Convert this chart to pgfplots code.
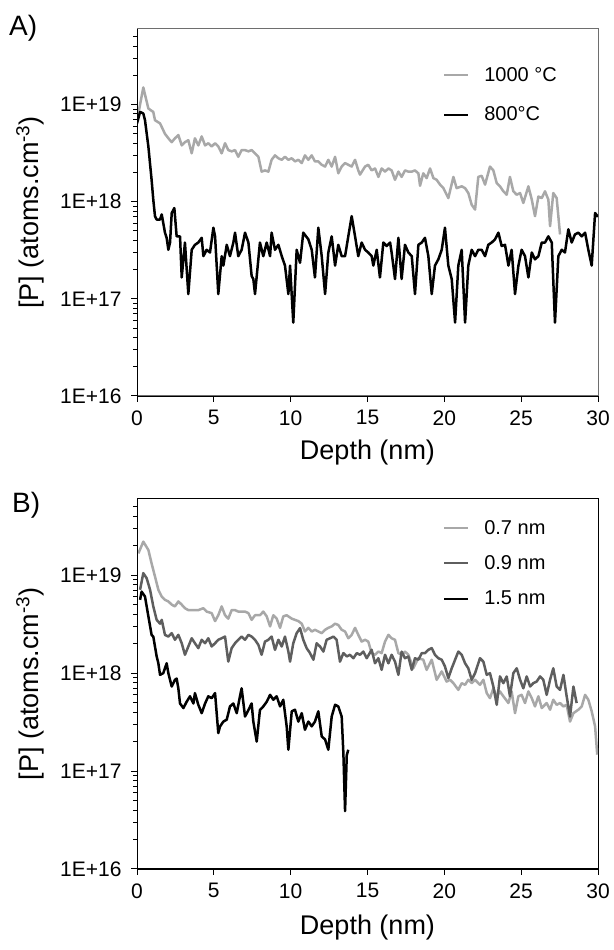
\documentclass[border=0pt]{standalone}
\usepackage{fontspec}
\setmainfont{Liberation Sans}
\usepackage{pgfplots}
\usepackage{pgfplotstable}
\pgfplotsset{compat=1.18}

\definecolor{lgray}{HTML}{A8A8A8}
\definecolor{mgray}{HTML}{5E5E5E}
\definecolor{framegray}{HTML}{6E6E6E}

% panel A: 1000 C
\pgfplotstableread{
x y
0.05 7.5e18
0.41 1.5e19
0.74 9.1e18
1.06 8.4e18
1.17 6.9e18
1.50 6.4e18
1.82 5.0e18
2.04 4.5e18
2.26 4.1e18
2.47 4.5e18
2.69 4.85e18
2.91 3.8e18
3.12 4.1e18
3.34 4.3e18
3.56 3.15e18
3.77 4.5e18
3.99 3.8e18
4.21 4.7e18
4.43 3.8e18
4.64 4.0e18
4.86 3.7e18
5.08 4.0e18
5.29 3.7e18
5.51 3.15e18
5.73 4.0e18
5.94 3.4e18
6.16 3.3e18
6.38 3.4e18
6.59 2.9e18
6.81 3.4e18
7.03 3.4e18
7.25 3.3e18
7.46 3.4e18
7.68 3.15e18
7.90 2.9e18
8.11 2.04e18
8.33 2.1e18
8.55 2.04e18
8.76 2.7e18
8.98 3.0e18
9.20 2.8e18
9.42 2.7e18
9.63 2.9e18
9.85 2.7e18
10.07 2.8e18
10.28 2.6e18
10.50 2.7e18
10.72 2.5e18
10.93 3.0e18
11.15 2.7e18
11.37 3.0e18
11.58 2.6e18
11.80 2.6e18
12.02 2.4e18
12.24 2.3e18
12.45 2.7e18
12.67 2.3e18
12.89 2.9e18
13.10 1.96e18
13.32 2.3e18
13.54 2.5e18
13.75 2.4e18
13.97 2.3e18
14.19 2.7e18
14.40 2.1e18
14.51 1.9e18
14.84 2.3e18
15.05 2.4e18
15.27 2.1e18
15.49 2.2e18
15.71 1.8e18
15.92 2.2e18
16.14 2.04e18
16.36 2.2e18
16.57 2.1e18
16.79 1.68e18
17.01 2.04e18
17.22 1.8e18
17.44 2.1e18
17.66 2.04e18
17.88 2.04e18
18.09 2.1e18
18.31 1.96e18
18.42 1.46e18
18.63 1.96e18
18.85 1.75e18
19.07 2.2e18
19.29 1.75e18
19.50 1.68e18
19.72 1.5e18
19.94 1.38e18
20.26 1.09e18
20.59 1.8e18
20.80 1.38e18
21.13 1.44e18
21.35 1.38e18
21.56 1.23e18
21.78 9.3e17
22.00 8.3e17
22.21 1.8e18
22.43 1.85e18
22.65 1.5e18
22.97 2.3e18
23.19 2.1e18
23.41 1.55e18
23.62 1.44e18
23.84 1.28e18
24.06 1.18e18
24.27 1.8e18
24.49 1.28e18
24.71 1.18e18
24.93 1.23e18
25.14 9.7e17
25.47 1.44e18
25.69 1.05e18
25.90 7.1e17
26.12 1.13e18
26.34 1.09e18
26.55 1.28e18
26.77 1.05e18
26.88 5.6e17
27.09 1.23e18
27.31 1.09e18
27.53 4.6e17
}\tabAhot

% panel A: 800 C
\pgfplotstableread{
x y
0.00 6.4e18
0.20 8.4e18
0.41 8.1e18
0.52 6.9e18
0.74 3.7e18
0.95 1.68e18
1.06 1.05e18
1.17 7.1e17
1.28 6.55e17
1.50 6.55e17
1.61 7.4e17
1.82 4.8e17
1.93 4.25e17
2.04 3.2e17
2.15 3.8e17
2.26 7.65e17
2.43 8.6e17
2.58 4.4e17
2.80 4.4e17
2.91 1.66e17
3.12 3.8e17
3.34 1.12e17
3.56 3.2e17
3.77 3.6e17
3.99 3.8e17
4.21 4.25e17
4.32 2.75e17
4.53 3.2e17
4.75 3.0e17
4.97 5.4e17
5.08 4.4e17
5.29 1.12e17
5.51 2.75e17
5.62 2.2e17
5.84 3.6e17
6.05 2.75e17
6.27 3.8e17
6.38 4.8e17
6.59 2.75e17
6.81 3.2e17
7.03 4.8e17
7.25 3.8e17
7.46 1.72e17
7.57 1.6e17
7.68 1.12e17
8.00 3.8e17
8.22 2.75e17
8.44 3.8e17
8.66 2.75e17
8.76 4.8e17
8.98 3.2e17
9.20 3.6e17
9.42 2.75e17
9.63 2.2e17
9.85 1.12e17
9.96 2.2e17
10.17 5.7e16
10.39 3.2e17
10.61 2.35e17
10.82 4.8e17
11.15 4.1e17
11.37 3.2e17
11.58 1.66e17
11.80 5.4e17
12.02 2.75e17
12.24 1.12e17
12.45 3.0e17
12.67 4.4e17
12.89 2.2e17
13.10 3.6e17
13.32 2.75e17
13.54 2.75e17
13.75 4.4e17
13.97 7.1e17
14.19 4.4e17
14.40 2.75e17
14.62 3.8e17
14.84 3.2e17
15.05 3.0e17
15.27 2.75e17
15.38 2.2e17
15.60 3.2e17
15.81 1.66e17
16.03 3.8e17
16.25 3.5e17
16.47 3.8e17
16.57 3.0e17
16.79 1.6e17
17.01 4.25e17
17.22 1.6e17
17.44 3.6e17
17.66 3.0e17
17.88 2.75e17
18.09 1.12e17
18.31 3.6e17
18.53 3.8e17
18.74 4.25e17
18.96 2.75e17
19.18 1.12e17
19.39 2.2e17
19.61 2.55e17
19.83 3.2e17
20.04 5.4e17
20.26 2.2e17
20.48 1.6e17
20.70 5.7e16
20.91 2.2e17
21.13 3.2e17
21.35 5.7e16
21.56 2.2e17
21.78 3.2e17
22.00 2.75e17
22.21 3.2e17
22.43 3.2e17
22.65 2.75e17
22.86 3.6e17
23.08 3.8e17
23.30 4.1e17
23.52 4.8e17
23.73 3.5e17
23.95 3.6e17
24.17 2.2e17
24.38 3.2e17
24.60 1.12e17
24.82 2.2e17
25.03 3.2e17
25.25 2.75e17
25.47 1.66e17
25.69 3.0e17
25.90 2.55e17
26.12 2.75e17
26.34 3.8e17
26.55 3.8e17
26.77 4.4e17
26.99 3.8e17
27.20 5.7e16
27.42 2.75e17
27.64 3.2e17
27.85 3.0e17
28.07 5.2e17
28.29 3.8e17
28.50 4.6e17
28.72 4.8e17
28.94 4.4e17
29.16 4.8e17
29.37 3.2e17
29.59 2.2e17
29.81 7.65e17
30.00 7.0e17
}\tabAcold

% panel B: 0.7 nm
\pgfplotstableread{
x y
0.09 1.67e19
0.41 2.2e19
0.74 1.81e19
0.95 1.32e19
1.17 9.7e18
1.39 7.1e18
1.61 6.05e18
1.82 5.6e18
2.04 5.4e18
2.26 5.0e18
2.47 4.8e18
2.69 5.4e18
2.91 5.0e18
3.12 4.6e18
3.34 4.4e18
3.67 4.4e18
3.99 4.4e18
4.32 4.6e18
4.53 4.25e18
4.86 4.1e18
5.08 3.4e18
5.29 3.9e18
5.51 4.8e18
5.73 3.9e18
5.94 3.6e18
6.16 4.4e18
6.38 4.4e18
6.59 4.25e18
6.81 4.25e18
7.03 4.25e18
7.25 4.1e18
7.46 3.5e18
7.68 3.9e18
8.00 3.9e18
8.22 4.25e18
8.44 3.8e18
8.66 3.0e18
8.87 3.9e18
9.09 3.6e18
9.31 2.9e18
9.52 3.8e18
9.74 3.9e18
10.07 3.6e18
10.28 3.5e18
10.50 3.4e18
10.72 3.2e18
10.93 2.66e18
11.15 2.9e18
11.37 2.66e18
11.58 2.77e18
11.80 2.66e18
12.02 2.56e18
12.24 2.77e18
12.45 2.9e18
12.67 3.0e18
12.89 3.2e18
13.10 3.1e18
13.32 2.77e18
13.54 2.66e18
13.75 2.27e18
13.97 2.46e18
14.19 2.9e18
14.40 2.46e18
14.62 2.1e18
14.84 2.19e18
15.05 2.10e18
15.27 1.60e18
15.49 1.54e18
15.71 1.66e18
15.92 1.60e18
16.14 2.10e18
16.36 2.46e18
16.57 2.27e18
16.79 2.19e18
17.01 1.60e18
17.22 1.54e18
17.44 1.66e18
17.66 1.54e18
17.98 1.12e18
18.31 1.42e18
18.63 1.37e18
18.85 1.08e18
19.18 1.37e18
19.50 8.55e17
19.83 1.04e18
20.15 8.2e17
20.37 8.55e17
20.59 7.9e17
20.91 6.75e17
21.13 7.9e17
21.35 7.6e17
21.56 8.55e17
21.78 7.9e17
22.00 8.55e17
22.32 7.6e17
22.54 8.55e17
22.76 6.25e17
22.97 5.55e17
23.19 7.0e17
23.41 5.8e17
23.62 6.5e17
23.84 5.8e17
24.17 4.95e17
24.38 6.5e17
24.60 3.9e17
24.82 5.8e17
25.03 6.0e17
25.25 4.95e17
25.47 6.5e17
25.69 5.55e17
25.90 4.57e17
26.12 5.8e17
26.34 4.4e17
26.66 4.95e17
26.88 4.23e17
27.09 5.35e17
27.31 4.75e17
27.53 4.95e17
27.75 4.57e17
27.96 4.75e17
28.18 3.2e17
28.40 3.9e17
28.72 4.23e17
28.94 4.57e17
29.16 6.0e17
29.37 5.35e17
29.59 4.07e17
29.81 2.86e17
29.95 1.47e17
}\tabBa

% panel B: 0.9 nm
\pgfplotstableread{
x y
0.20 7.1e18
0.41 1.05e19
0.63 9.3e18
0.85 7.1e18
1.06 4.8e18
1.28 3.5e18
1.50 3.2e18
1.61 3.5e18
1.82 2.46e18
2.04 2.36e18
2.26 2.56e18
2.47 2.19e18
2.69 2.46e18
2.91 2.02e18
3.12 1.54e18
3.34 1.87e18
3.56 2.27e18
3.77 2.02e18
3.99 1.80e18
4.21 2.19e18
4.43 2.02e18
4.64 2.27e18
4.86 1.87e18
5.08 2.02e18
5.29 2.19e18
5.51 2.27e18
5.73 2.36e18
5.94 1.31e18
6.16 1.80e18
6.38 2.02e18
6.59 2.19e18
6.81 2.36e18
7.03 2.19e18
7.25 2.46e18
7.46 2.36e18
7.68 2.19e18
7.90 1.94e18
8.11 1.54e18
8.33 2.10e18
8.55 2.19e18
8.76 2.36e18
8.98 1.73e18
9.20 2.19e18
9.42 1.87e18
9.63 2.36e18
9.85 1.66e18
9.96 1.31e18
10.17 2.02e18
10.39 2.56e18
10.61 2.88e18
10.82 2.19e18
11.04 1.80e18
11.26 1.60e18
11.48 1.37e18
11.69 2.02e18
11.91 1.87e18
12.13 1.66e18
12.34 2.19e18
12.56 2.27e18
12.78 2.36e18
12.99 2.19e18
13.21 1.31e18
13.43 1.60e18
13.65 1.48e18
13.86 1.54e18
14.08 1.42e18
14.30 1.60e18
14.51 1.54e18
14.73 1.66e18
14.95 1.42e18
15.27 1.73e18
15.49 1.26e18
15.71 1.42e18
15.92 1.08e18
16.14 1.54e18
16.36 1.26e18
16.57 1.54e18
16.79 1.31e18
17.01 9.6e17
17.22 1.66e18
17.44 1.42e18
17.66 1.48e18
17.88 1.08e18
18.09 1.42e18
18.31 1.37e18
18.53 1.60e18
18.74 1.60e18
18.96 1.73e18
19.18 1.80e18
19.39 1.54e18
19.61 1.42e18
19.83 1.37e18
20.04 1.17e18
20.26 8.9e17
20.48 1.12e18
20.70 1.37e18
20.91 1.66e18
21.13 1.54e18
21.35 1.26e18
21.56 1.12e18
21.78 8.55e17
22.00 1.0e18
22.32 1.42e18
22.54 1.31e18
22.76 9.6e17
22.97 1.0e18
23.19 7.3e17
23.41 4.75e17
23.62 9.25e17
23.84 7.9e17
24.06 9.25e17
24.27 5.8e17
24.49 1.0e18
24.71 1.12e18
24.93 8.55e17
25.14 7.0e17
25.36 9.25e17
25.58 7.3e17
25.79 7.9e17
26.01 8.2e17
26.23 9.25e17
26.44 8.55e17
26.66 6.0e17
26.88 8.55e17
27.09 1.12e18
27.31 7.3e17
27.53 6.75e17
27.75 9.6e17
27.96 5.8e17
28.18 3.6e17
28.40 7.3e17
28.61 4.95e17
}\tabBb

% panel B: 1.5 nm
\pgfplotstableread{
x y
0.20 5.6e18
0.30 6.8e18
0.52 6.05e18
0.74 3.8e18
0.95 2.46e18
1.06 2.36e18
1.28 1.48e18
1.39 1.26e18
1.50 9.6e17
1.71 1.0e18
1.93 1.26e18
2.04 1.0e18
2.26 7.3e17
2.47 8.55e17
2.58 8.8e17
2.69 7.0e17
2.80 4.9e17
3.02 4.4e17
3.23 5.1e17
3.45 5.8e17
3.67 4.9e17
3.77 6.25e17
3.99 4.75e17
4.21 3.9e17
4.43 4.9e17
4.64 5.8e17
4.86 5.55e17
5.08 6.25e17
5.29 2.44e17
5.40 2.85e17
5.62 3.2e17
5.84 3.35e17
6.05 4.57e17
6.27 4.9e17
6.49 3.9e17
6.70 5.8e17
6.81 7.0e17
7.03 3.6e17
7.25 4.2e17
7.46 4.9e17
7.57 3.2e17
7.79 2.0e17
8.00 4.2e17
8.22 4.57e17
8.44 5.1e17
8.66 6.0e17
8.87 5.35e17
9.09 5.8e17
9.31 4.57e17
9.52 5.35e17
9.74 2.86e17
9.85 1.65e17
10.07 4.07e17
10.28 4.23e17
10.50 3.2e17
10.72 3.9e17
10.93 2.64e17
11.15 3.2e17
11.37 2.86e17
11.58 3.2e17
11.80 4.07e17
12.02 2.26e17
12.24 2.1e17
12.45 1.65e17
12.67 3.6e17
12.89 4.75e17
13.10 4.57e17
13.32 3.6e17
13.43 1.52e17
13.54 3.9e16
13.65 1.45e17
13.75 1.65e17
}\tabBc

\pgfplotsset{
  legend image code/.code={\draw[#1, line width=2pt] (0pt,0pt) -- (24pt,0pt);},
}

\begin{document}
\begin{tikzpicture}
\begin{axis}[
    name=axA, at={(137pt,-396pt)}, anchor=south west,
    scale only axis, width=461pt, height=367pt,
    xmin=0, xmax=30, ymin=1e16, ymax=6e19, ymode=log,
    xtick={0,5,10,15,20,25,30},
    xticklabels={0,5,10,15,20,25,30},
    ytick={1e16,1e17,1e18,1e19},
    yticklabels={1E+16,1E+17,1E+18,1E+19},
    minor ytick={2e16,3e16,4e16,5e16,6e16,7e16,8e16,9e16,2e17,3e17,4e17,5e17,6e17,7e17,8e17,9e17,2e18,3e18,4e18,5e18,6e18,7e18,8e18,9e18,2e19,3e19,4e19,5e19},
    tick align=outside, xtick pos=bottom, ytick pos=left,
    major tick length=6pt, minor tick length=4pt,
    tick style={black, line width=1pt},
    axis line style={framegray, line width=1pt},
    ticklabel style={font=\fontsize{21}{25}\selectfont},
    xticklabel style={yshift=-5pt},
    yticklabel style={xshift=-6pt},
    xlabel={Depth (nm)},
    ylabel={[P] (atoms.cm\textsuperscript{-3})},
    xlabel style={font=\fontsize{27}{32}\selectfont, at={(axis description cs:0.5,-0.155)}, anchor=center},
    ylabel style={font=\fontsize{27}{32}\selectfont, at={(axis description cs:-0.232,0.5)}, anchor=center},
    legend cell align=left,
    legend style={draw=none, fill=none, inner sep=0pt, at={(0.664,0.896)}, anchor=north west,
      font=\fontsize{20}{24}\selectfont, nodes={inner sep=0pt}, column sep=15pt, row sep=24pt},
  ]
\addplot[lgray, line width=2.5pt, line join=round] table {\tabAhot};
\addplot[black, line width=2.5pt, line join=round] table {\tabAcold};
\legend{1000 °C, 800°C}
\end{axis}
\draw[black, line width=1pt] (axA.north west) -- (axA.south west) -- (axA.south east);
\node[anchor=north west, inner sep=0pt, font=\fontsize{28}{34}\selectfont] at (9pt,-15pt) {A)};

\begin{axis}[
    name=axB, at={(137pt,-869pt)}, anchor=south west,
    scale only axis, width=461pt, height=370pt,
    xmin=0, xmax=30, ymin=1e16, ymax=6e19, ymode=log,
    xtick={0,5,10,15,20,25,30},
    xticklabels={0,5,10,15,20,25,30},
    ytick={1e16,1e17,1e18,1e19},
    yticklabels={1E+16,1E+17,1E+18,1E+19},
    minor ytick={2e16,3e16,4e16,5e16,6e16,7e16,8e16,9e16,2e17,3e17,4e17,5e17,6e17,7e17,8e17,9e17,2e18,3e18,4e18,5e18,6e18,7e18,8e18,9e18,2e19,3e19,4e19,5e19},
    tick align=outside, xtick pos=bottom, ytick pos=left,
    major tick length=6pt, minor tick length=4pt,
    tick style={black, line width=1pt},
    axis line style={black, line width=1pt},
    ticklabel style={font=\fontsize{21}{25}\selectfont},
    xticklabel style={yshift=-5pt},
    yticklabel style={xshift=-6pt},
    xlabel={Depth (nm)},
    ylabel={[P] (atoms.cm\textsuperscript{-3})},
    xlabel style={font=\fontsize{27}{32}\selectfont, at={(axis description cs:0.5,-0.157)}, anchor=center},
    ylabel style={font=\fontsize{27}{32}\selectfont, at={(axis description cs:-0.232,0.5)}, anchor=center},
    legend cell align=left,
    legend style={draw=none, fill=none, inner sep=0pt, at={(0.664,0.943)}, anchor=north west,
      font=\fontsize{20}{24}\selectfont, nodes={inner sep=0pt}, column sep=15pt, row sep=20pt},
  ]
\addplot[lgray, line width=2.5pt, line join=round] table {\tabBa};
\addplot[mgray, line width=2.5pt, line join=round] table {\tabBb};
\addplot[black, line width=2.5pt, line join=round] table {\tabBc};
\legend{0.7 nm, 0.9 nm, 1.5 nm}
\end{axis}
\draw[black, line width=1pt] (axB.north west) -- (axB.south west) -- (axB.south east);
\node[anchor=north west, inner sep=0pt, font=\fontsize{28}{34}\selectfont] at (12pt,-492pt) {B)};

\pgfresetboundingbox
\useasboundingbox (0pt,0pt) rectangle (613pt,-950pt);
\end{tikzpicture}
\end{document}
